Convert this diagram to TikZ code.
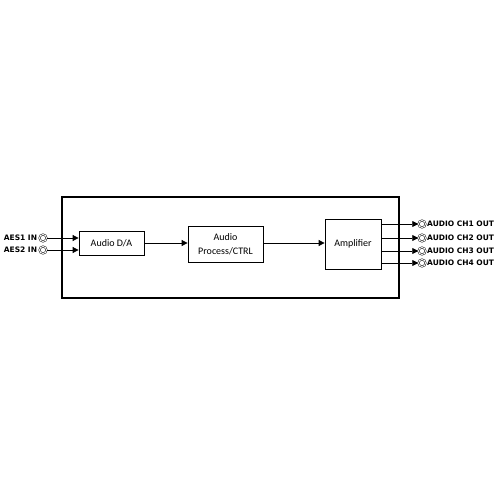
\documentclass[tikz,border=0pt]{standalone}
\usepackage{fontspec}
\setmainfont{Carlito}
\newfontfamily\labelfont{DejaVu Sans}
\usetikzlibrary{arrows.meta, positioning}

\tikzset{
    block/.style={draw, line width=0.8pt, align=center, font=\fontsize{10}{13.5}\selectfont},
    jack/.style={circle, draw, line width=0.5pt, double, double distance=0.9pt, minimum size=7pt, inner sep=0pt},
    portlabel/.style={font=\labelfont\bfseries\fontsize{7.5}{8}\selectfont, inner sep=0pt},
    signal/.style={-{Triangle[length=6pt,width=6pt]}, line width=0.8pt}
}

\begin{document}
\begin{tikzpicture}[x=1pt, y=-1pt]
\useasboundingbox (0,0) rectangle (500,500);

% Frame
\node (frame) [draw, line width=1.6pt, minimum width=337pt, minimum height=101pt] at (230.5,247.5) {};

% Blocks
\node (da) [block, minimum width=65pt, minimum height=24pt] at (111.5,243) {Audio D/A};
\node (proc) [block, minimum width=75pt, minimum height=36pt] at (225.5,244) {Audio\\Process/CTRL};
\node (amp) [block, minimum width=56pt, minimum height=50pt] at (353,244) {Amplifier};

% Input jacks
\node (in1) [jack] at (43,238) {};
\node (in2) [jack] at (43,250) {};
\node (in1l) [portlabel, left = 2pt of in1] {AES1 IN};
\node (in2l) [portlabel, left = 2pt of in2] {AES2 IN};

% Output jacks
\foreach \i/\y in {1/224, 2/238, 3/251, 4/263} {
    \node (out\i) [jack] at (422,\y) {};
    \node (out\i l) [portlabel, anchor=west] at (427,\y) {AUDIO CH\i{} OUT};
    \draw [signal] (out\i -| amp.east) -- (out\i.west);
}

% Arrows
\draw [signal] (in1.east) -- (in1 -| da.west);
\draw [signal] (in2.east) -- (in2 -| da.west);
\draw [signal] (da.east) -- (da.east -| proc.west);
\draw [signal] (proc.east |- da.east) -- (da.east -| amp.west);
\end{tikzpicture}
\end{document}
